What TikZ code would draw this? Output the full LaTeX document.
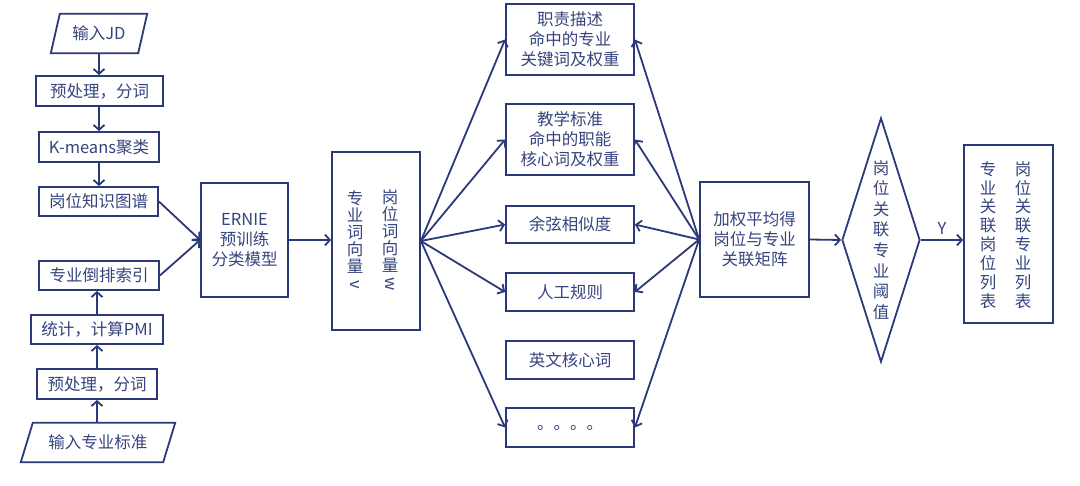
\documentclass[tikz,border=0pt]{standalone}
\usepackage{fontspec}
\setmainfont{Noto Sans CJK SC}
\usetikzlibrary{arrows.meta,shapes.geometric}
\definecolor{lc}{RGB}{44,57,120}
\definecolor{tc}{RGB}{54,68,126}
\tikzset{
  line/.style={draw=lc, line width=1.8pt},
  arr/.style={line, -{Straight Barb[length=5pt,width=11pt,line width=1.8pt]}},
  txt/.style={text=tc, font=\fontsize{16.5pt}{20pt}\selectfont, align=center, inner sep=0pt},
  box/.style={txt, line, rectangle},
  ghost/.style={txt, rectangle},
  vtxt/.style={txt, font=\fontsize{16.5pt}{#1}\selectfont},
}
\newcommand{\rw}[1]{\rotatebox[origin=c]{-90}{#1}}
\begin{document}
\begin{tikzpicture}[x=1pt,y=-1pt]
\useasboundingbox (0,0) rectangle (1080,486);
% left column, top
\node[ghost, minimum width=96pt, minimum height=39pt] (jd) at (99,33.5) {输入JD};
\draw[line] ([xshift=9pt]jd.north west) -- (jd.north east) -- ([xshift=-9pt]jd.south east) -- (jd.south west) -- cycle;
\node[box, minimum width=127pt, minimum height=30pt] (pre1) at (99.5,91) {预处理，分词};
\node[box, minimum width=120pt, minimum height=30pt] (km) at (99,147) {K-means聚类};
\node[box, minimum width=119pt, minimum height=29pt] (kg) at (98.5,201.5) {岗位知识图谱};
% left column, bottom
\node[box, minimum width=120pt, minimum height=29pt] (idx) at (99,275.5) {专业倒排索引};
\node[box, minimum width=132pt, minimum height=29pt] (pmi) at (97,329.5) {统计，计算PMI};
\node[box, minimum width=120pt, minimum height=30pt] (pre2) at (97,384) {预处理，分词};
\node[ghost, minimum width=154pt, minimum height=39pt] (std) at (98,442.5) {输入专业标准};
\draw[line] ([xshift=12pt]std.north west) -- (std.north east) -- ([xshift=-12pt]std.south east) -- (std.south west) -- cycle;
% arrows left
\draw[arr] (jd.south) -- (jd.south |- pre1.north);
\draw[arr] (pre1.south -| jd.south) -- (jd.south |- km.north);
\draw[arr] (km.south -| jd.south) -- (jd.south |- kg.north);
\draw[arr] (std.north -| pre2.south) -- (pre2.south);
\draw[arr] (pre2.north) -- (pre2.north |- pmi.south);
\draw[arr] (pmi.north -| pre2.north) -- (pre2.north |- idx.south);
% ERNIE
\node[box, minimum width=87pt, minimum height=114pt] (ernie) at (244.5,240) {ERNIE\\预训练\\分类模型};
\draw[arr] (kg.east) -- (ernie.west);
\draw[arr] (idx.east) -- (ernie.west);
% vector box
\node[box, minimum width=88pt, minimum height=178pt] (vec) at (376,241) {};
\node[vtxt=17pt] (vv) at (355,240) {专\\业\\词\\向\\量\\\rw{v}};
\node[vtxt=17pt] (vw) at (390,240) {岗\\位\\词\\向\\量\\\rw{w}};
\draw[arr] (ernie.east) -- (ernie.east -| vec.west);
% right boxes
\node[box, minimum width=128pt, minimum height=71pt] (b1) at (570,39.5) {职责描述\\命中的专业\\关键词及权重};
\node[box, minimum width=128pt, minimum height=71pt] (b2) at (570,139.5) {教学标准\\命中的职能\\核心词及权重};
\node[box, minimum width=128pt, minimum height=37pt] (b3) at (570,224.5) {余弦相似度};
\node[box, minimum width=128pt, minimum height=38pt] (b4) at (570,292) {人工规则};
\node[box, minimum width=128pt, minimum height=38pt] (b5) at (570,360) {英文核心词};
\node[box, minimum width=128pt, minimum height=39pt] (b6) at (570,427.5) {。。。。};
% weighted average
\node[box, minimum width=109pt, minimum height=115pt] (wavg) at (754.5,239.5) {加权平均得\\岗位与专业\\关联矩阵};
\foreach \b in {b1,b2,b3,b4,b6} {
  \draw[arr] (vec.east) -- (\b.west);
  \draw[arr] (wavg.west) -- (\b.east);
}
% diamond
\node[diamond, line, minimum width=78pt, minimum height=244pt, inner sep=0pt] (dia) at (881,240) {};
\node[vtxt=20.6pt] (dt) at (881,240) {岗\\位\\关\\联\\专\\业\\阈\\值};
\draw[arr] (wavg.east) -- (dia.west);
% result
\node[box, minimum width=89pt, minimum height=178pt] (res) at (1008.5,234) {};
\node[vtxt=18.9pt] (r1) at (988,235) {专\\业\\关\\联\\岗\\位\\列\\表};
\node[vtxt=18.9pt] (r2) at (1023,235) {岗\\位\\关\\联\\专\\业\\列\\表};
\draw[arr] (dia.east) -- node[txt, above=5pt] (ylab) {Y} (dia.east -| res.west);
\end{tikzpicture}
\end{document}
